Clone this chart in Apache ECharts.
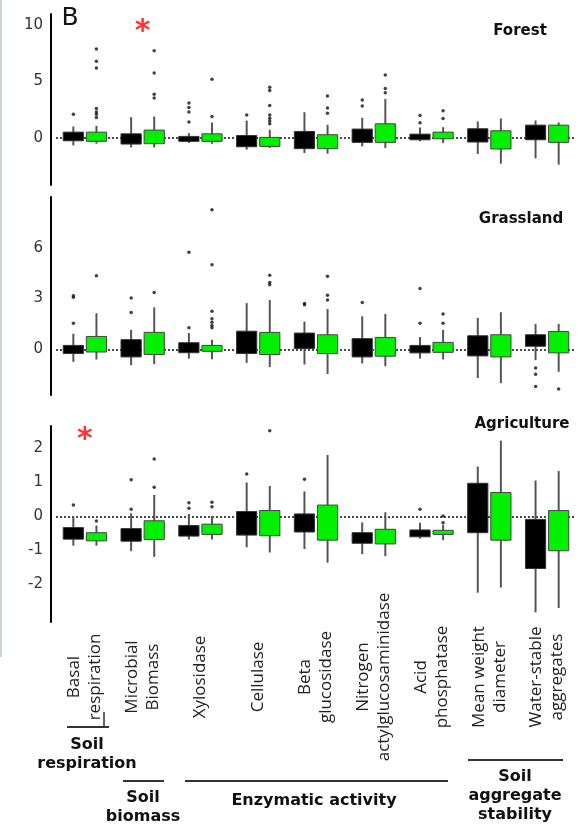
<!DOCTYPE html>
<html>
<head>
<meta charset="utf-8">
<script src="https://cdn.jsdelivr.net/npm/echarts@6/dist/echarts.min.js"></script>
<style>
html,body{margin:0;padding:0;background:#fff;}
#chart{width:583px;height:827px;}
</style>
</head>
<body>
<div id="chart"></div>
<script>
// Categories (x axis)
const categories = ['Basal\nrespiration', 'Microbial\nBiomass', 'Xylosidase', 'Cellulase', 'Beta\nglucosidase',
  'Nitrogen\nactylglucosaminidase', 'Acid\nphosphatase', 'Mean weight\ndiameter', 'Water-stable\naggregates'];

const panelNames = ['Forest', 'Grassland', 'Agriculture'];

// Y tick labels per panel
const forestTicks = [0, 5, 10];
const grasslandTicks = [0, 3, 6];
const agricultureTicks = [-2, -1, 0, 1, 2];

// Boxes: [whisker low, box low, box high, whisker high]
const forestBlack = [[-0.68,-0.27,0.5,1.0],[-0.86,-0.56,0.35,1.83],[-0.47,-0.32,0.12,0.41],[-1.06,-0.8,0.2,1.53],
  [-1.36,-0.97,0.56,2.27],[-0.77,-0.41,0.77,1.77],[-0.32,-0.18,0.32,0.91],[-1.45,-0.38,0.8,1.45],[-1.83,-0.18,1.12,1.53]];
const forestGreen = [[-0.53,-0.32,0.5,1.06],[-0.86,-0.53,0.68,1.89],[-0.53,-0.32,0.35,1.36],[-0.91,-0.77,0.03,0.71],
  [-1.42,-0.97,0.27,1.15],[-0.91,-0.41,1.24,3.45],[-0.47,-0.09,0.5,0.94],[-2.3,-1.0,0.62,1.71],[-2.39,-0.41,1.12,1.36]];
const grasslandBlack = [[-0.74,-0.25,0.23,0.92],[-0.94,-0.45,0.57,1.15],[-0.55,-0.2,0.39,0.96],[-0.8,-0.25,1.07,2.73],
  [-0.9,0.04,0.96,1.64],[-0.84,-0.45,0.63,1.95],[-0.55,-0.21,0.23,0.72],[-1.7,-0.39,0.8,1.86],[-0.64,0.18,0.86,1.5]];
const grasslandGreen = [[-0.6,-0.16,0.76,2.13],[-0.88,-0.31,1.0,2.48],[-0.59,-0.12,0.23,0.57],[-1.04,-0.31,1.0,2.91],
  [-1.46,-0.25,0.86,2.38],[-1.0,-0.41,0.7,2.09],[-0.6,-0.18,0.41,1.15],[-2.0,-0.45,0.86,2.19],[-1.33,-0.21,1.05,1.5]];
const agricultureBlack = [[-0.86,-0.67,-0.33,0],[-1.02,-0.73,-0.36,0.09],[-0.68,-0.58,-0.27,0.07],[-0.91,-0.55,0.14,0.99],
  [-0.96,-0.46,0.07,0.73],[-1.11,-0.79,-0.48,-0.18],[-0.65,-0.6,-0.4,-0.19],[-2.24,-0.48,0.97,1.46],[-2.82,-1.53,-0.09,1.05]];
const agricultureGreen = [[-0.86,-0.72,-0.48,-0.27],[-1.19,-0.68,-0.13,0.63],[-0.68,-0.53,-0.23,0.01],[-1.06,-0.57,0.17,0.89],
  [-1.36,-0.7,0.33,1.8],[-1.17,-0.81,-0.38,0.12],[-0.7,-0.53,-0.41,-0.25],[-2.09,-0.7,0.7,2.22],[-2.69,-1.01,0.17,1.33]];

// Outliers: [category index, value]
const forestBlackOut = [[0,2.1],[2,3.1],[2,2.7],[2,2.3],[2,1.4],[3,2.03],[5,3.36],[5,2.83],[6,1.98],[6,1.33]];
const forestGreenOut = [[0,7.9],[0,6.8],[0,6.2],[0,2.6],[0,2.3],[0,2.1],[0,1.8],[1,7.73],[1,5.75],[1,3.86],[1,3.54],
  [2,5.2],[2,1.89],[3,4.48],[3,4.19],[3,2.86],[3,2.03],[3,1.74],[3,1.5],[3,1.24],[4,3.72],[4,2.65],[4,2.18],
  [5,5.58],[5,4.37],[5,4.01],[6,2.39],[6,1.71]];
const grasslandBlackOut = [[0,3.16],[0,3.07],[0,1.54],[1,3.03],[1,2.17],[2,5.74],[2,1.27],[4,2.71],[4,2.64],[5,2.77],
  [6,3.59],[6,1.54],[8,-1.1],[8,-1.48],[8,-2.2]];
const grasslandGreenOut = [[0,4.34],[1,3.36],[2,8.24],[2,5.0],[2,2.25],[2,1.8],[2,1.6],[2,1.41],[2,1.27],[3,4.38],
  [3,3.95],[3,3.81],[4,4.32],[4,3.2],[4,2.91],[6,2.09],[6,1.54],[8,-2.35]];
const agricultureBlackOut = [[0,0.33],[1,1.07],[1,0.21],[2,0.4],[2,0.24],[3,1.24],[4,1.09],[6,0.21]];
const agricultureGreenOut = [[0,-0.14],[1,1.68],[1,0.85],[2,0.41],[2,0.28],[3,2.51],[6,0.01],[6,-0.19]];

// Significance markers: [category index, value]
const forestSig = [[1, 10.0]];
const grasslandSig = [];
const agricultureSig = [[0, 2.45]];

const panels = [
  {name: panelNames[0], ticks: forestTicks, black: forestBlack, green: forestGreen, blackOut: forestBlackOut, greenOut: forestGreenOut, sig: forestSig,
   top: 14, height: 171, min: -4.2, max: 11},
  {name: panelNames[1], ticks: grasslandTicks, black: grasslandBlack, green: grasslandGreen, blackOut: grasslandBlackOut, greenOut: grasslandGreenOut, sig: grasslandSig,
   top: 197, height: 198, min: -2.7, max: 9},
  {name: panelNames[2], ticks: agricultureTicks, black: agricultureBlack, green: agricultureGreen, blackOut: agricultureBlackOut, greenOut: agricultureGreenOut, sig: agricultureSig,
   top: 426, height: 196, min: -3.1, max: 2.65}
];

const GREEN = '#00f000';
const BOX_OFFSET = 0.2;   // fraction of band
const BOX_WIDTH = 0.35;   // fraction of band

function boxRenderer(side, fill, stroke) {
  return function (params, api) {
    const idx = api.value(0);
    const band = api.size([1, 0])[0];
    const x = api.coord([idx, 0])[0] + side * band * BOX_OFFSET;
    const w = band * BOX_WIDTH;
    const yLow = api.coord([idx, api.value(1)])[1];
    const yQ1 = api.coord([idx, api.value(2)])[1];
    const yQ3 = api.coord([idx, api.value(3)])[1];
    const yHigh = api.coord([idx, api.value(4)])[1];
    return {
      type: 'group',
      children: [
        {type: 'line', shape: {x1: x, y1: yHigh, x2: x, y2: yLow}, style: {stroke: '#555', lineWidth: 2}},
        {type: 'rect', shape: {x: x - w / 2, y: yQ3, width: w, height: yQ1 - yQ3}, style: {fill: fill, stroke: stroke, lineWidth: 1}}
      ]
    };
  };
}

const grids = [], xAxes = [], yAxes = [], series = [];
panels.forEach(function (p, i) {
  grids.push({left: 56, width: 520, top: p.top, height: p.height});
  const isBottom = i === panels.length - 1;
  xAxes.push({
    type: 'category', gridIndex: i, data: categories,
    axisLine: {show: false}, axisTick: {show: false}, splitLine: {show: false},
    axisLabel: isBottom ? {
      show: true, interval: 0, rotate: 90, align: 'center', verticalAlign: 'middle', margin: 55,
      fontFamily: 'Open Sans', fontSize: 17, lineHeight: 21, color: '#222'
    } : {show: false}
  });
  yAxes.push({
    type: 'value', gridIndex: i, min: p.min, max: p.max, offset: 5,
    axisLine: {show: true, lineStyle: {color: '#000', width: 2}},
    axisTick: {show: false}, splitLine: {show: false},
    axisLabel: {customValues: p.ticks, margin: 8, fontFamily: 'DejaVu Sans', fontSize: 15, color: '#333'}
  });
  const bd = p.black.map(function (d, k) { return [k].concat(d); });
  const gd = p.green.map(function (d, k) { return [k].concat(d); });
  series.push({
    type: 'scatter', name: p.name + ' zero', xAxisIndex: i, yAxisIndex: i, data: [], z: 1,
    markLine: {
      silent: true, symbol: ['none', 'none'], z: 1, label: {show: false},
      lineStyle: {type: [2, 2], color: '#111', width: 1.5},
      data: [{yAxis: 0}]
    }
  });
  series.push({
    type: 'custom', name: p.name + ' black', xAxisIndex: i, yAxisIndex: i, z: 3,
    encode: {x: 0, y: [1, 2, 3, 4]}, data: bd, renderItem: boxRenderer(-1, '#000', '#333')
  });
  series.push({
    type: 'custom', name: p.name + ' green', xAxisIndex: i, yAxisIndex: i, z: 3,
    encode: {x: 0, y: [1, 2, 3, 4]}, data: gd, renderItem: boxRenderer(1, GREEN, '#444')
  });
  series.push({
    type: 'scatter', name: p.name + ' black outliers', xAxisIndex: i, yAxisIndex: i, z: 4,
    symbolSize: 3.5, symbolOffset: [-11.5, 0], itemStyle: {color: '#111'}, data: p.blackOut
  });
  series.push({
    type: 'scatter', name: p.name + ' green outliers', xAxisIndex: i, yAxisIndex: i, z: 4,
    symbolSize: 3.5, symbolOffset: [11.5, 0], itemStyle: {color: '#111'}, data: p.greenOut
  });
  series.push({
    type: 'scatter', name: p.name + ' significance', xAxisIndex: i, yAxisIndex: i, z: 5,
    symbolSize: 1, itemStyle: {color: 'rgba(0,0,0,0)'}, data: p.sig,
    label: {show: true, position: 'inside', formatter: '*', color: '#ff0000', fontSize: 30, fontWeight: 'bold', fontFamily: 'DejaVu Sans', offset: [0, 7]}
  });
});

const boldFont = {fontFamily: 'DejaVu Sans', fontWeight: 'bold', fontSize: 16, fill: '#111', align: 'center', verticalAlign: 'middle', lineHeight: 19};
function txt(text, x, y, extra) {
  return {type: 'text', x: x, y: y, silent: true, style: Object.assign({text: text}, boldFont, extra || {})};
}
function bar(x1, x2, y) {
  return {type: 'line', silent: true, shape: {x1: x1, y1: y, x2: x2, y2: y}, style: {stroke: '#333', lineWidth: 2}};
}

const graphics = [
  {type: 'line', silent: true, shape: {x1: 1, y1: 0, x2: 1, y2: 657}, style: {stroke: '#c8d4e0', lineWidth: 2}},
  {type: 'text', x: 70, y: 18, silent: true, style: {text: 'B', fontFamily: 'DejaVu Sans', fontSize: 25, fill: '#111', align: 'center', verticalAlign: 'middle'}},
  txt('Forest', 520, 31, {fontSize: 15}),
  txt('Grassland', 521, 219, {fontSize: 15}),
  txt('Agriculture', 522, 424, {fontSize: 15}),
  bar(67, 109, 727),
  {type: 'line', silent: true, shape: {x1: 104, y1: 712, x2: 104, y2: 727}, style: {stroke: '#333', lineWidth: 1.5}},
  txt('Soil\nrespiration', 87, 754.5),
  bar(123, 164, 781),
  txt('Soil\nbiomass', 143, 807.5),
  bar(185, 448, 781),
  txt('Enzymatic activity', 314, 801),
  bar(468, 563, 760),
  txt('Soil\naggregate\nstability', 515, 796)
];

const chart = echarts.init(document.getElementById('chart'), null, {renderer: 'canvas'});
chart.setOption({
  animation: false,
  backgroundColor: '#fff',
  textStyle: {fontFamily: 'DejaVu Sans'},
  grid: grids,
  xAxis: xAxes,
  yAxis: yAxes,
  series: series,
  graphic: graphics
});
</script>
</body>
</html>
